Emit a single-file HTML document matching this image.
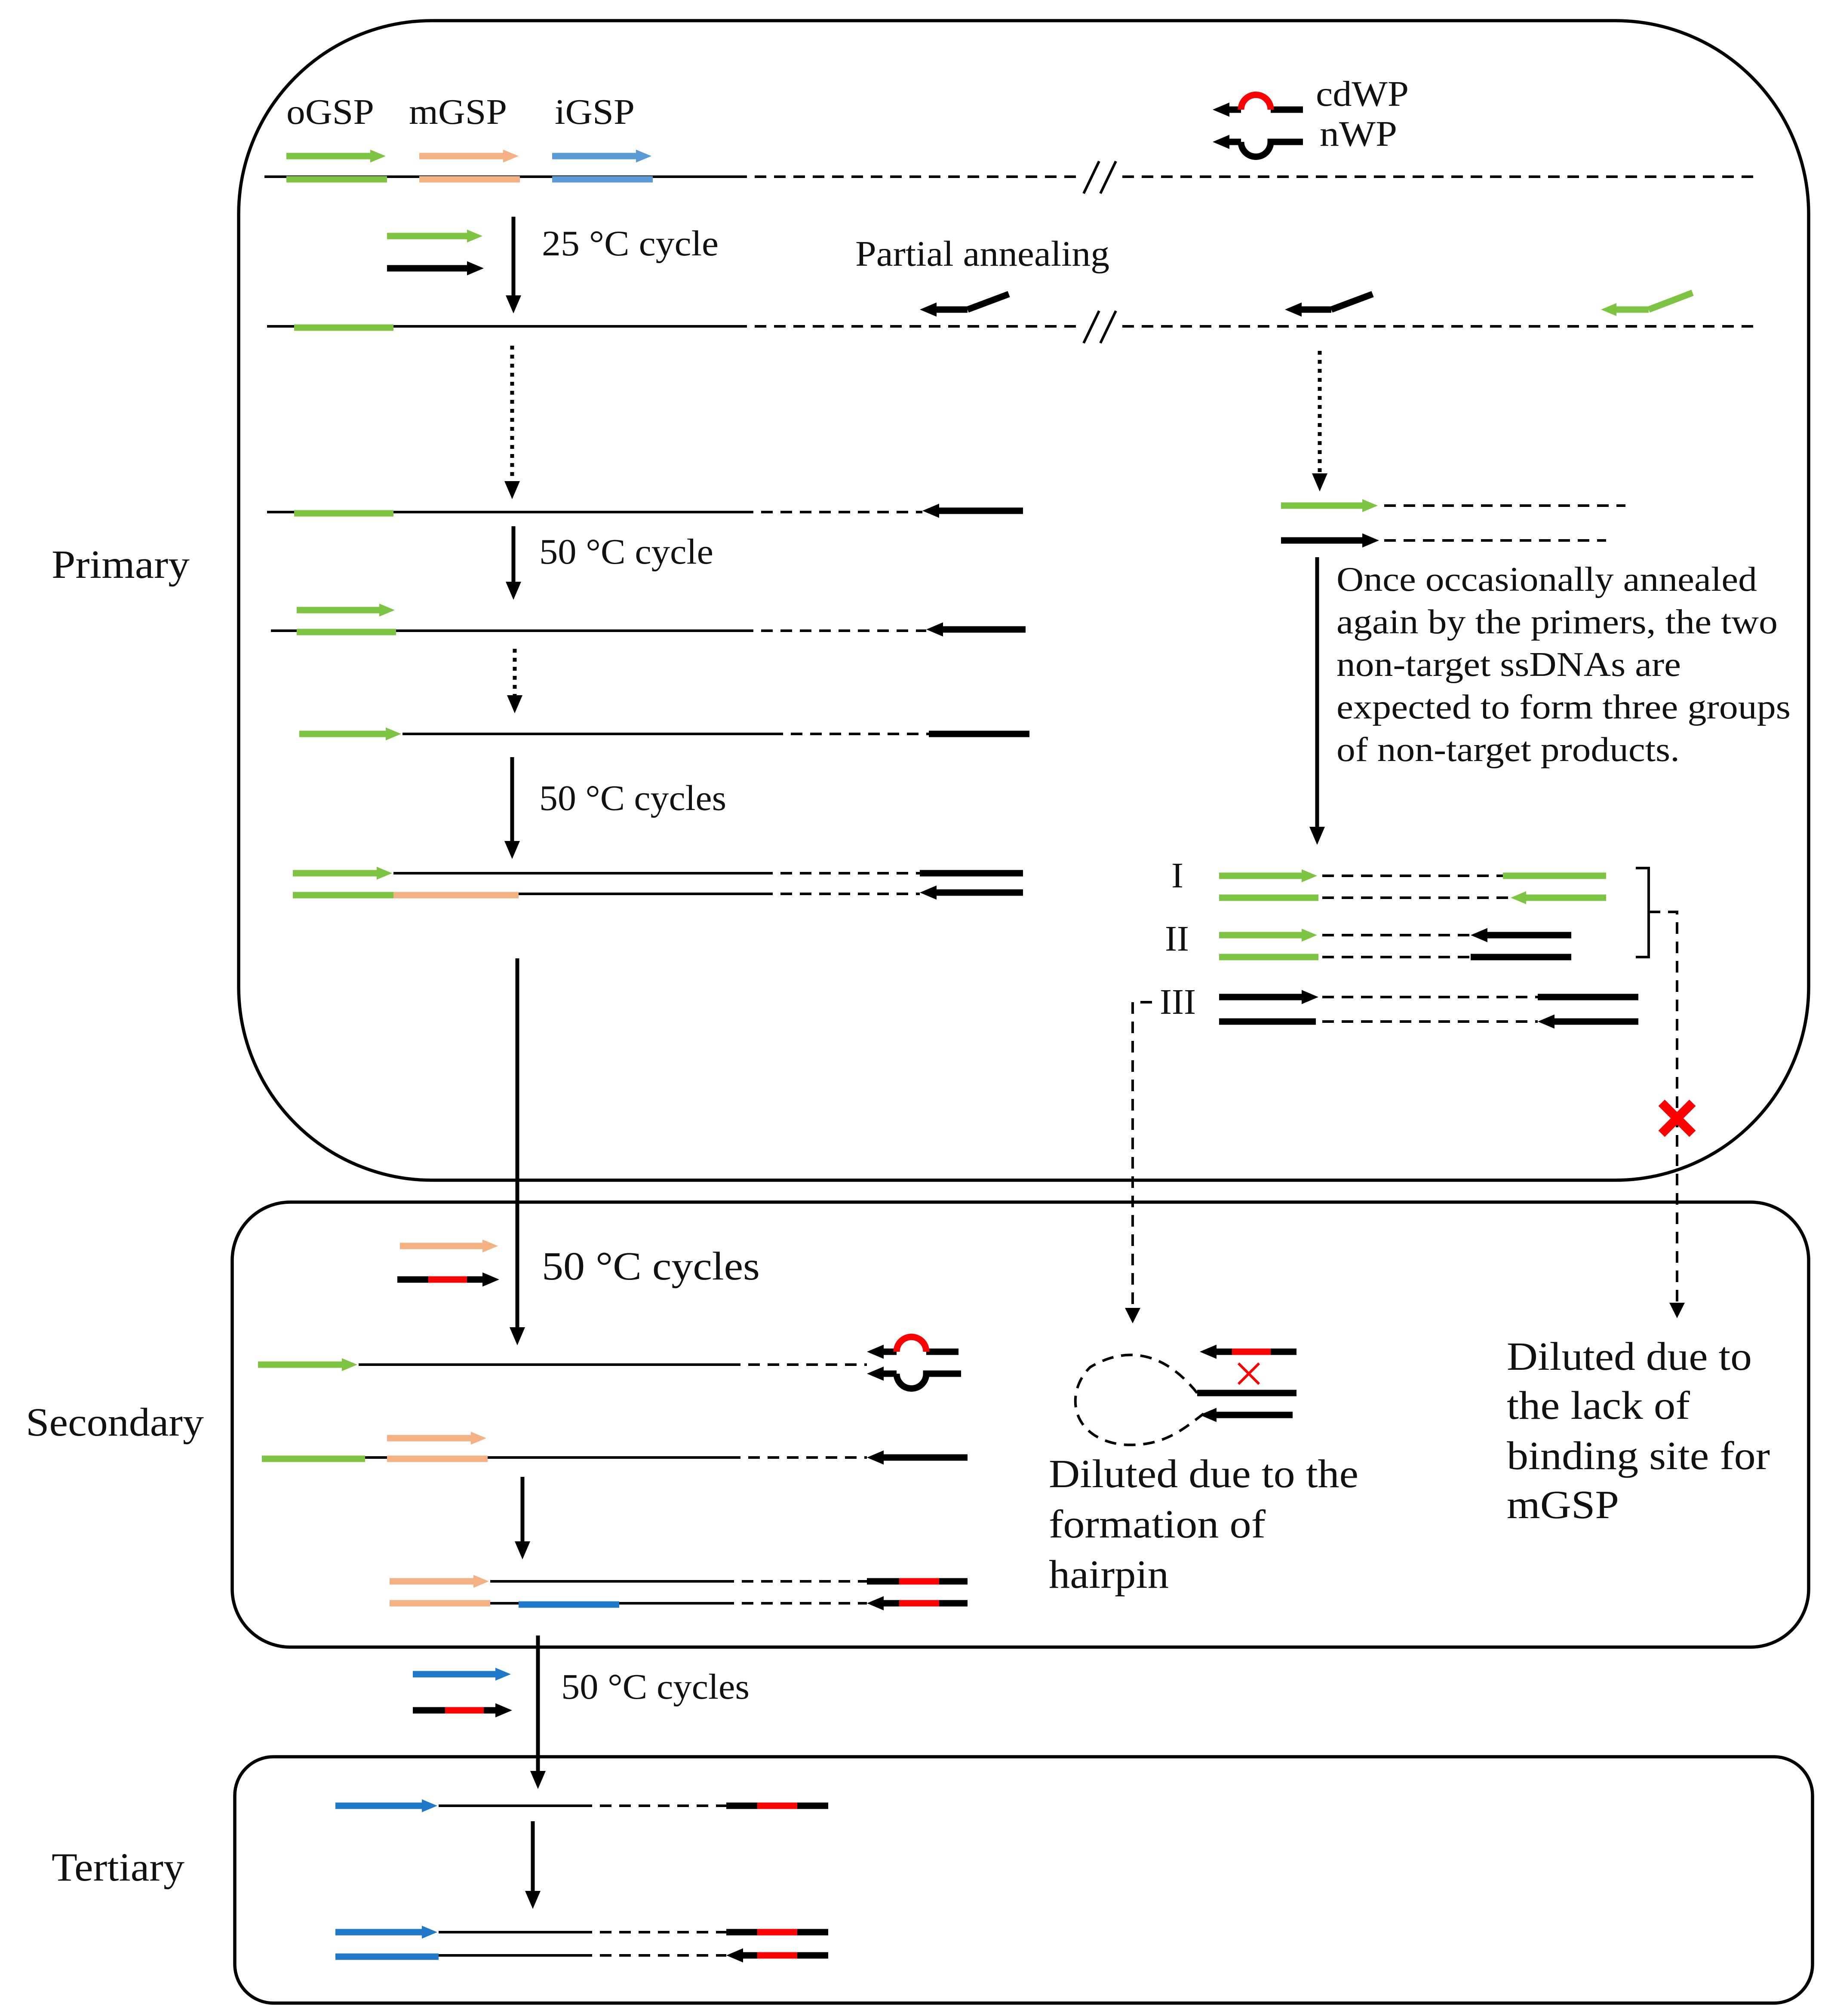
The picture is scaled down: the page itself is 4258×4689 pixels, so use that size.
<!DOCTYPE html>
<html><head><meta charset="utf-8"><style>
html,body{margin:0;padding:0;background:#fff}
svg{display:block}
text{font-family:"Liberation Serif",serif;fill:#111}
</style></head><body>
<svg width="4258" height="4689" viewBox="0 0 1419.33 1563" preserveAspectRatio="none" xmlns="http://www.w3.org/2000/svg">
<defs>
<marker id="hk" markerWidth="14" markerHeight="14" refX="7" refY="7" orient="auto" markerUnits="userSpaceOnUse"><path d="M0,1 L14,7 L0,13 z" fill="#000"/></marker>
<marker id="hg" markerWidth="12" markerHeight="12" refX="6" refY="6" orient="auto" markerUnits="userSpaceOnUse"><path d="M0,1 L12,6 L0,11 z" fill="#7dc442"/></marker>
<marker id="ho" markerWidth="12" markerHeight="12" refX="6" refY="6" orient="auto" markerUnits="userSpaceOnUse"><path d="M0,1 L12,6 L0,11 z" fill="#f4b183"/></marker>
<marker id="hb" markerWidth="12" markerHeight="12" refX="6" refY="6" orient="auto" markerUnits="userSpaceOnUse"><path d="M0,1 L12,6 L0,11 z" fill="#1f78c8"/></marker>
<marker id="hb2" markerWidth="12" markerHeight="12" refX="6" refY="6" orient="auto" markerUnits="userSpaceOnUse"><path d="M0,1 L12,6 L0,11 z" fill="#5b9bd5"/></marker>
<marker id="hp" markerWidth="13" markerHeight="13" refX="6" refY="6.5" orient="auto" markerUnits="userSpaceOnUse"><path d="M0,1 L13,6.5 L0,12 z" fill="#000"/></marker>
</defs>
<g fill="none" stroke="#000" stroke-width="2.5">
<rect x="185" y="16" width="1217" height="899" rx="150"/>
<rect x="180" y="932" width="1222" height="345" rx="45"/>
<rect x="182" y="1362" width="1223" height="191" rx="30"/>
</g>
<g lengthAdjust="spacingAndGlyphs">
<g font-size="31">
<text x="40" y="448" textLength="107" lengthAdjust="spacingAndGlyphs">Primary</text>
<text x="20" y="1113" textLength="138" lengthAdjust="spacingAndGlyphs">Secondary</text>
<text x="40" y="1458" textLength="103" lengthAdjust="spacingAndGlyphs">Tertiary</text>
</g>
<g font-size="28">
<text x="222" y="96" textLength="68" lengthAdjust="spacingAndGlyphs">oGSP</text>
<text x="317" y="96" textLength="76" lengthAdjust="spacingAndGlyphs">mGSP</text>
<text x="430" y="96" textLength="62" lengthAdjust="spacingAndGlyphs">iGSP</text>
<text x="1020" y="82" textLength="72" lengthAdjust="spacingAndGlyphs">cdWP</text>
<text x="1023" y="113" textLength="60" lengthAdjust="spacingAndGlyphs">nWP</text>
<text x="420" y="198" textLength="137" lengthAdjust="spacingAndGlyphs">25 °C cycle</text>
<text x="663" y="206" textLength="197" lengthAdjust="spacingAndGlyphs">Partial annealing</text>
<text x="418" y="437" textLength="135" lengthAdjust="spacingAndGlyphs">50 °C cycle</text>
<text x="418" y="628" textLength="145" lengthAdjust="spacingAndGlyphs">50 °C cycles</text>
<text x="908" y="688">I</text><text x="903" y="737">II</text><text x="899" y="786">III</text>
<text x="435" y="1317" textLength="146" lengthAdjust="spacingAndGlyphs">50 °C cycles</text>
</g>
<g font-size="27">
<text x="1036" y="458" textLength="326" lengthAdjust="spacingAndGlyphs">Once occasionally annealed</text>
<text x="1036" y="491" textLength="342" lengthAdjust="spacingAndGlyphs">again by the primers, the two</text>
<text x="1036" y="524" textLength="267" lengthAdjust="spacingAndGlyphs">non-target ssDNAs are</text>
<text x="1036" y="557" textLength="352" lengthAdjust="spacingAndGlyphs">expected to form three groups</text>
<text x="1036" y="590" textLength="266" lengthAdjust="spacingAndGlyphs">of non-target products.</text>
</g>
<g font-size="31">
<text x="420" y="992" textLength="169" lengthAdjust="spacingAndGlyphs">50 °C cycles</text>
<text x="813" y="1153" textLength="240" lengthAdjust="spacingAndGlyphs">Diluted due to the</text>
<text x="813" y="1192" textLength="168" lengthAdjust="spacingAndGlyphs">formation of</text>
<text x="813" y="1231" textLength="93" lengthAdjust="spacingAndGlyphs">hairpin</text>
<text x="1168" y="1062" textLength="190" lengthAdjust="spacingAndGlyphs">Diluted due to</text>
<text x="1168" y="1100" textLength="142" lengthAdjust="spacingAndGlyphs">the lack of</text>
<text x="1168" y="1139" textLength="204" lengthAdjust="spacingAndGlyphs">binding site for</text>
<text x="1168" y="1177" textLength="87" lengthAdjust="spacingAndGlyphs">mGSP</text>
</g>
</g>
<g stroke="#000" stroke-width="2" fill="none">
<path d="M205 137H570M207 253H570M207 397H575M210 489H575M312 569H598M305 677H590M305 693H590M278 1058H565M283 1130H565M380 1226H560M380 1243H560M340 1400H450M340 1498H450M340 1516H450"/>
</g>
<g stroke="#000" stroke-width="2" fill="none" stroke-dasharray="9,6">
<path d="M570 137H840M870 137H1360M570 253H840M870 253H1360M575 397H715M575 489H718M598 569H720M590 677H713M590 693H713"/>
<path d="M1073 392H1260M1073 419H1245M1025 679H1165M1025 696H1170M1025 725H1140M1025 742H1140M1025 773H1192M1025 792H1192"/>
<path d="M565 1058H672M565 1130H672M560 1226H672M560 1243H672M450 1400H563M450 1498H563M450 1516H563"/>
<path d="M1278 707H1300V1010M893 777H878V1015"/>
<path d="M928 1080 C 900 1045, 870 1045, 845 1060 C 825 1080, 830 1115, 870 1120 C 900 1122, 915 1110, 933 1096"/>
</g>
<g stroke="#000" stroke-width="2"><path d="M840 150L852 125M853 150L865 125M840 266L852 241M853 266L865 241"/></g>
<path d="M1294 1010H1306L1300 1022z M872 1014H884L878 1026z"/>
<path d="M1268 673H1278V742H1268" stroke="#000" stroke-width="2" fill="none"/>
<g stroke="#ff0000" stroke-width="7"><path d="M1288 855L1312 879M1312 855L1288 879"/></g>
<g stroke="#ff0000" stroke-width="2"><path d="M960 1057L976 1073M976 1057L960 1073"/></g>
<g stroke="#000" stroke-width="3" fill="none">
<path d="M398 168V236" marker-end="url(#hk)"/>
<path d="M398 408V458" marker-end="url(#hk)"/>
<path d="M397 587V659" marker-end="url(#hk)"/>
<path d="M1021 432V648" marker-end="url(#hk)"/>
<path d="M401 743V1036" marker-end="url(#hk)"/>
<path d="M405 1145V1202" marker-end="url(#hk)"/>
<path d="M417 1268V1380" marker-end="url(#hk)"/>
<path d="M413 1412V1473" marker-end="url(#hk)"/>
</g>
<g stroke="#000" stroke-width="3" fill="none" stroke-dasharray="3,4">
<path d="M397 268V380" marker-end="url(#hk)"/>
<path d="M399 503V546" marker-end="url(#hk)"/>
<path d="M1023 272V374" marker-end="url(#hk)"/>
</g>
<g stroke-width="5">
<path stroke="#7dc442" d="M222 139H300M228 254H305M228 398H305M230 490H307M227 694H305M945 696H1022M1165 679H1245M945 742H1022M203 1131H283"/>
<path stroke="#f4b183" d="M325 139H403M305 694H402M300 1131H378M302 1243H380"/>
<path stroke="#5b9bd5" d="M428 139H506"/>
<path stroke="#1f78c8" d="M402 1244H480M260 1517H340"/>
<path stroke="#000" d="M720 569H798M713 677H793M1140 742H1218M1192 773H1270M945 792H1020"/>
</g>
<g stroke-width="5" fill="none">
<path stroke="#7dc442" marker-end="url(#hg)" d="M222 121H293"/>
<path stroke="#f4b183" marker-end="url(#ho)" d="M325 121H396"/>
<path stroke="#5b9bd5" marker-end="url(#hb2)" d="M428 121H499"/>
<path stroke="#7dc442" marker-end="url(#hg)" d="M300 183H368"/>
<path stroke="#000" marker-end="url(#hp)" d="M300 208H368"/>
<path stroke="#000" marker-end="url(#hp)" d="M793 396H722"/>
<path stroke="#7dc442" marker-end="url(#hg)" d="M230 473H300"/>
<path stroke="#000" marker-end="url(#hp)" d="M795 488H725"/>
<path stroke="#7dc442" marker-end="url(#hg)" d="M232 569H305"/>
<path stroke="#7dc442" marker-end="url(#hg)" d="M227 677H298"/>
<path stroke="#000" marker-end="url(#hp)" d="M793 692H720"/>
<path stroke="#7dc442" marker-end="url(#hg)" d="M993 392H1062"/>
<path stroke="#000" marker-end="url(#hp)" d="M993 419H1062"/>
<path stroke="#7dc442" marker-end="url(#hg)" d="M945 679H1015"/>
<path stroke="#7dc442" marker-end="url(#hg)" d="M1245 696H1177"/>
<path stroke="#7dc442" marker-end="url(#hg)" d="M945 725H1015"/>
<path stroke="#000" marker-end="url(#hp)" d="M1218 725H1147"/>
<path stroke="#000" marker-end="url(#hp)" d="M945 773H1015"/>
<path stroke="#000" marker-end="url(#hp)" d="M1270 792H1199"/>
<path stroke="#000" marker-end="url(#hp)" d="M750 240H720"/><path stroke="#000" d="M750 240L782 228"/>
<path stroke="#000" marker-end="url(#hp)" d="M1032 240H1003"/><path stroke="#000" d="M1032 240L1064 228"/>
<path stroke="#7dc442" marker-end="url(#hg)" d="M1278 240H1247"/><path stroke="#7dc442" d="M1278 240L1312 227"/>
<path stroke="#000" marker-end="url(#hp)" d="M962 85H947"/><path stroke="#000" d="M985 85H1010"/>
<path stroke="#ff0000" d="M962 85A11.5 11.5 0 0 1 985 85"/>
<path stroke="#000" marker-end="url(#hp)" d="M962 110H947"/><path stroke="#000" d="M962 110A11.5 11.5 0 0 0 985 110H1010"/>
<path stroke="#f4b183" marker-end="url(#ho)" d="M310 966H380"/>
<path stroke="#000" marker-end="url(#hp)" d="M362 992H380"/><path stroke="#000" d="M308 992H332"/><path stroke="#ff0000" d="M332 992H362"/>
<path stroke="#7dc442" marker-end="url(#hg)" d="M200 1058H271"/>
<path stroke="#000" marker-end="url(#hp)" d="M695 1048H679"/><path stroke="#000" d="M718 1048H743"/><path stroke="#ff0000" d="M695 1048A11.5 11.5 0 0 1 718 1048"/>
<path stroke="#000" marker-end="url(#hp)" d="M695 1065H679"/><path stroke="#000" d="M695 1065A11.5 11.5 0 0 0 718 1065H745"/>
<path stroke="#f4b183" marker-end="url(#ho)" d="M300 1115H371"/>
<path stroke="#000" marker-end="url(#hp)" d="M750 1130H679"/>
<path stroke="#f4b183" marker-end="url(#ho)" d="M302 1226H373"/>
<path stroke="#000" d="M672 1226H697M728 1226H750"/><path stroke="#ff0000" d="M697 1226H728"/>
<path stroke="#000" marker-end="url(#hp)" d="M697 1243H679"/><path stroke="#000" d="M728 1243H750"/><path stroke="#ff0000" d="M697 1243H728"/>
<path stroke="#000" marker-end="url(#hp)" d="M955 1048H937"/><path stroke="#000" d="M985 1048H1005"/><path stroke="#ff0000" d="M955 1048H985"/>
<path stroke="#000" d="M928 1080H1005"/>
<path stroke="#000" marker-end="url(#hp)" d="M1002 1097H937"/>
<path stroke="#1f78c8" marker-end="url(#hb)" d="M320 1298H390"/>
<path stroke="#000" marker-end="url(#hp)" d="M375 1326H390"/><path stroke="#000" d="M320 1326H345"/><path stroke="#ff0000" d="M345 1326H375"/>
<path stroke="#1f78c8" marker-end="url(#hb)" d="M260 1400H333"/>
<path stroke="#000" d="M563 1400H587M618 1400H642"/><path stroke="#ff0000" d="M587 1400H618"/>
<path stroke="#1f78c8" marker-end="url(#hb)" d="M260 1498H333"/>
<path stroke="#000" d="M563 1498H587M618 1498H642"/><path stroke="#ff0000" d="M587 1498H618"/>
<path stroke="#000" marker-end="url(#hp)" d="M587 1516H570"/><path stroke="#000" d="M618 1516H642"/><path stroke="#ff0000" d="M587 1516H618"/>
</g>
</svg>
</body></html>
